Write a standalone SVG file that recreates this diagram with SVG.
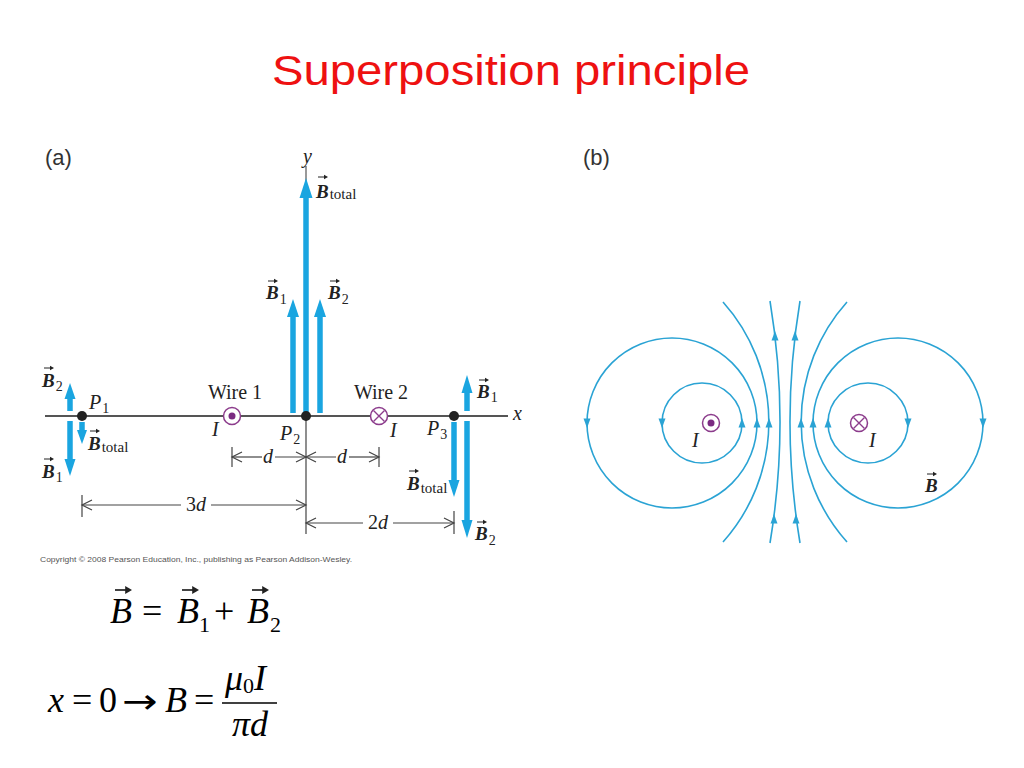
<svg xmlns="http://www.w3.org/2000/svg" xmlns:xlink="http://www.w3.org/1999/xlink" width="1024" height="768" viewBox="0 0 1024 768">
<defs>
<style>
.title{font-family:"Liberation Sans",Arial,sans-serif;font-size:42px;fill:#ee1111}
.panel{font-family:"Liberation Sans",Arial,sans-serif;font-size:22px;fill:#333}
.lbl{font-family:"Liberation Serif","Times New Roman",serif;font-size:20px;fill:#222}
.it{font-style:italic}
.bv{font-family:"Liberation Serif","Times New Roman",serif;font-size:19px;font-weight:bold;font-style:italic;fill:#222}
.sub{font-size:14px;font-weight:normal;font-style:normal}
.subt{font-size:15px;font-weight:normal;font-style:normal}
.axis{stroke:#555;stroke-width:2;fill:none}
.dim{stroke:#444;stroke-width:1.2;fill:none}
.ba{stroke:#1aa5e0;stroke-width:5.5;fill:none}
.bah{fill:#1aa5e0}
.fl{stroke:#2aa3d4;stroke-width:1.6;fill:none}
.wire{stroke:#8c3c8c;stroke-width:1.5;fill:#fff}
.wdot{fill:#7b2b82}
.wx{stroke:#8c3c8c;stroke-width:1.4}
.eq{font-family:"Liberation Serif","Times New Roman",serif;font-size:36px;fill:#000}
.eqs{font-family:"Liberation Serif","Times New Roman",serif;font-size:22px;fill:#000}
.arr{font-family:"DejaVu Sans","Liberation Sans",sans-serif;font-size:34px;fill:#000}
.copy{font-family:"Liberation Sans",Arial,sans-serif;font-size:8px;fill:#555}
</style>
<g id="va"><path d="M0,0 H8" stroke="#222" stroke-width="1" fill="none"/><path d="M6,-2.3 L10,0 L6,2.3 Z" fill="#222"/></g>
<path id="chL" d="M10,-5 L0,0 L10,5" stroke="#444" stroke-width="1.2" fill="none"/>
<path id="chR" d="M-10,-5 L0,0 L-10,5" stroke="#444" stroke-width="1.2" fill="none"/>
<path id="hu" d="M0,-5 L3.5,4.5 L-3.5,4.5 Z" fill="#2aa3d4"/>
<path id="hd" d="M0,5 L3.5,-4.5 L-3.5,-4.5 Z" fill="#2aa3d4"/>
</defs>
<rect width="1024" height="768" fill="#fff"/>

<text class="title" x="272" y="85" textLength="478" lengthAdjust="spacingAndGlyphs">Superposition principle</text>

<!-- Panel (a) -->
<g id="panel-a">
<text class="panel" x="45" y="165">(a)</text>
<g id="axes">
<line class="axis" x1="45" y1="416" x2="508" y2="416"/>
<line x1="306" y1="166" x2="306" y2="416" stroke="#555" stroke-width="1.2"/>
<text class="lbl it" x="513" y="420">x</text>
<text class="lbl it" x="303" y="163" font-size="18">y</text>
</g>

<g id="connectors">
<line class="dim" x1="306" y1="416" x2="306" y2="534"/>
<line class="dim" x1="232" y1="447" x2="232" y2="467"/>
<line class="dim" x1="379" y1="447" x2="379" y2="467"/>
<line class="dim" x1="232" y1="457" x2="262" y2="457"/>
<line class="dim" x1="275" y1="457" x2="336" y2="457"/>
<line class="dim" x1="349" y1="457" x2="379" y2="457"/>
<use xlink:href="#chL" x="232" y="457"/>
<use xlink:href="#chR" x="306" y="457"/>
<use xlink:href="#chL" x="306" y="457"/>
<use xlink:href="#chR" x="379" y="457"/>
<line class="dim" x1="82" y1="495" x2="82" y2="517"/>
<line class="dim" x1="82" y1="505" x2="181" y2="505"/>
<line class="dim" x1="211" y1="505" x2="306" y2="505"/>
<use xlink:href="#chL" x="82" y="505"/>
<use xlink:href="#chR" x="306" y="505"/>
<line class="dim" x1="454" y1="511" x2="454" y2="534"/>
<line class="dim" x1="306" y1="523" x2="363" y2="523"/>
<line class="dim" x1="393" y1="523" x2="454" y2="523"/>
<use xlink:href="#chL" x="306" y="523"/>
<use xlink:href="#chR" x="454" y="523"/>
</g>
<text class="lbl it" x="268" y="463" text-anchor="middle">d</text>
<text class="lbl it" x="342" y="463" text-anchor="middle">d</text>
<text class="lbl" x="196" y="511" text-anchor="middle">3<tspan font-style="italic">d</tspan></text>
<text class="lbl" x="378" y="529" text-anchor="middle">2<tspan font-style="italic">d</tspan></text>

<g id="vectors-p2">
<line class="ba" x1="306" y1="416" x2="306" y2="196"/>
<polygon class="bah" points="306,178 299.5,198 312.5,198"/>
<line class="ba" x1="293" y1="413" x2="293" y2="315"/>
<polygon class="bah" points="293,299 287,317 299,317"/>
<line class="ba" x1="320" y1="413" x2="320" y2="315"/>
<polygon class="bah" points="320,299 314,317 326,317"/>
</g>
<g id="vectors-p1">
<line class="ba" x1="70" y1="411" x2="70" y2="397"/>
<polygon class="bah" points="70,383 64.5,399 75.5,399"/>
<line class="ba" x1="70" y1="421" x2="70" y2="461"/>
<polygon class="bah" points="70,476 64.5,459 75.5,459"/>
<line class="ba" x1="82" y1="422" x2="82" y2="432"/>
<polygon class="bah" points="82,444 77,430 87,430"/>
</g>
<g id="vectors-p3">
<line class="ba" x1="467" y1="411" x2="467" y2="391"/>
<polygon class="bah" points="467,375 461.5,393 472.5,393"/>
<line class="ba" x1="467" y1="421" x2="467" y2="522"/>
<polygon class="bah" points="467,538 461.5,520 472.5,520"/>
<line class="ba" x1="454" y1="422" x2="454" y2="482"/>
<polygon class="bah" points="454,497 448.5,480 459.5,480"/>
</g>

<g id="P1"><circle cx="82" cy="416" r="5" fill="#222"/>
<text class="lbl it" x="89" y="409">P<tspan class="sub" dx="1" dy="4">1</tspan></text></g>
<g id="P2"><circle cx="306" cy="416" r="5" fill="#222"/>
<text class="lbl it" x="280" y="440">P<tspan class="sub" dx="1" dy="4">2</tspan></text></g>
<g id="P3"><circle cx="454" cy="416" r="5" fill="#222"/>
<text class="lbl it" x="427" y="435">P<tspan class="sub" dx="1" dy="4">3</tspan></text></g>

<g id="wire1">
<circle class="wire" cx="232" cy="416" r="8.5"/>
<circle class="wdot" cx="232" cy="416" r="3.5"/>
<text class="lbl" x="235" y="399" text-anchor="middle">Wire 1</text>
<text class="lbl it" x="212" y="436">I</text>
</g>
<g id="wire2">
<circle class="wire" cx="379" cy="416" r="8.5"/>
<path class="wx" d="M373.5,410.5 L384.5,421.5 M384.5,410.5 L373.5,421.5"/>
<text class="lbl" x="381" y="399" text-anchor="middle">Wire 2</text>
<text class="lbl it" x="390" y="437">I</text>
</g>

<g id="lbl-btotal-top"><text class="bv" x="316" y="198">B<tspan class="subt" dx="1" dy="1">total</tspan></text><use xlink:href="#va" x="318" y="177"/></g>
<g id="lbl-b1-p2"><text class="bv" x="266" y="299">B<tspan class="sub" dx="1" dy="5">1</tspan></text><use xlink:href="#va" x="268" y="281"/></g>
<g id="lbl-b2-p2"><text class="bv" x="328" y="299">B<tspan class="sub" dx="1" dy="5">2</tspan></text><use xlink:href="#va" x="330" y="281"/></g>
<g id="lbl-b2-p1"><text class="bv" x="42" y="387">B<tspan class="sub" dx="1" dy="4">2</tspan></text><use xlink:href="#va" x="44" y="368"/></g>
<g id="lbl-btotal-p1"><text class="bv" x="88" y="450">B<tspan class="subt" dx="1" dy="2">total</tspan></text><use xlink:href="#va" x="90" y="431"/></g>
<g id="lbl-b1-p1"><text class="bv" x="42" y="478">B<tspan class="sub" dx="1" dy="4">1</tspan></text><use xlink:href="#va" x="44" y="459"/></g>
<g id="lbl-b1-p3"><text class="bv" x="477" y="398">B<tspan class="sub" dx="1" dy="4">1</tspan></text><use xlink:href="#va" x="479" y="380"/></g>
<g id="lbl-btotal-p3"><text class="bv" x="407" y="490">B<tspan class="subt" dx="1" dy="3">total</tspan></text><use xlink:href="#va" x="409" y="471"/></g>
<g id="lbl-b2-p3"><text class="bv" x="475" y="540">B<tspan class="sub" dx="1" dy="5">2</tspan></text><use xlink:href="#va" x="477" y="522"/></g>

<text class="copy" x="40" y="562" textLength="312" lengthAdjust="spacingAndGlyphs">Copyright © 2008 Pearson Education, Inc., publishing as Pearson Addison-Wesley.</text>
</g>

<g id="panel-b">
<text class="panel" x="583" y="165">(b)</text>
<g id="field-lines">
<circle class="fl" cx="702" cy="423" r="40"/>
<circle class="fl" cx="672" cy="423" r="85"/>
<circle class="fl" cx="868" cy="423" r="40"/>
<circle class="fl" cx="898" cy="423" r="85"/>
<path class="fl" d="M723,302 A180,180 0 0 1 723,542"/>
<path class="fl" d="M847,302 A180,180 0 0 0 847,542"/>
<path class="fl" d="M770,301 A740,740 0 0 1 770,543"/>
<path class="fl" d="M800,301 A740,740 0 0 0 800,543"/>
<use xlink:href="#hd" x="587" y="423"/>
<use xlink:href="#hu" x="757" y="423"/>
<use xlink:href="#hd" x="662" y="423"/>
<use xlink:href="#hu" x="742" y="423"/>
<use xlink:href="#hu" x="769" y="423"/>
<use xlink:href="#hu" x="801" y="423"/>
<use xlink:href="#hu" x="813" y="423"/>
<use xlink:href="#hd" x="983" y="423"/>
<use xlink:href="#hu" x="828" y="423"/>
<use xlink:href="#hd" x="908" y="423"/>
<use xlink:href="#hu" x="775" y="336"/>
<use xlink:href="#hu" x="774" y="519"/>
<use xlink:href="#hu" x="795" y="336"/>
<use xlink:href="#hu" x="796" y="519"/>
</g>
<g id="wire-out">
<circle class="wire" cx="711" cy="423" r="8.5"/>
<circle class="wdot" cx="711" cy="423" r="3.5"/>
<text class="lbl it" x="692" y="447">I</text>
</g>
<g id="wire-in">
<circle class="wire" cx="859" cy="423" r="8.5"/>
<path class="wx" d="M853.5,417.5 L864.5,428.5 M864.5,417.5 L853.5,428.5"/>
<text class="lbl it" x="869" y="447">I</text>
</g>
<g id="lbl-b"><text class="bv" x="925" y="492">B</text><use xlink:href="#va" x="927" y="474"/></g>
</g>

<g id="eq1">
<text class="eq" x="110" y="623" font-style="italic">B</text>
<text class="eq" x="142" y="623">=</text>
<text class="eq" x="177" y="623" font-style="italic">B</text>
<text class="eqs" x="199" y="632">1</text>
<text class="eq" x="214" y="623">+</text>
<text class="eq" x="247" y="623" font-style="italic">B</text>
<text class="eqs" x="270" y="632">2</text>
<g transform="translate(115,590) scale(1.7)"><use xlink:href="#va"/></g>
<g transform="translate(182,590) scale(1.7)"><use xlink:href="#va"/></g>
<g transform="translate(252,590) scale(1.7)"><use xlink:href="#va"/></g>
</g>
<g id="eq2">
<text class="eq" x="48" y="712" font-style="italic">x</text>
<text class="eq" x="72" y="712">=</text>
<text class="eq" x="99" y="712">0</text>
<text class="arr" transform="translate(122,713) scale(1.25,1)">→</text>
<text class="eq" x="165" y="712" font-style="italic">B</text>
<text class="eq" x="194" y="712">=</text>
<line x1="222" y1="703" x2="277" y2="703" stroke="#000" stroke-width="1.6"/>
<text class="eq" x="225" y="690"><tspan font-style="italic">μ</tspan><tspan class="eqs" dy="3">0</tspan><tspan font-style="italic" dy="-3">I</tspan></text>
<text class="eq" x="232" y="736" font-style="italic">πd</text>
</g>
</svg>
